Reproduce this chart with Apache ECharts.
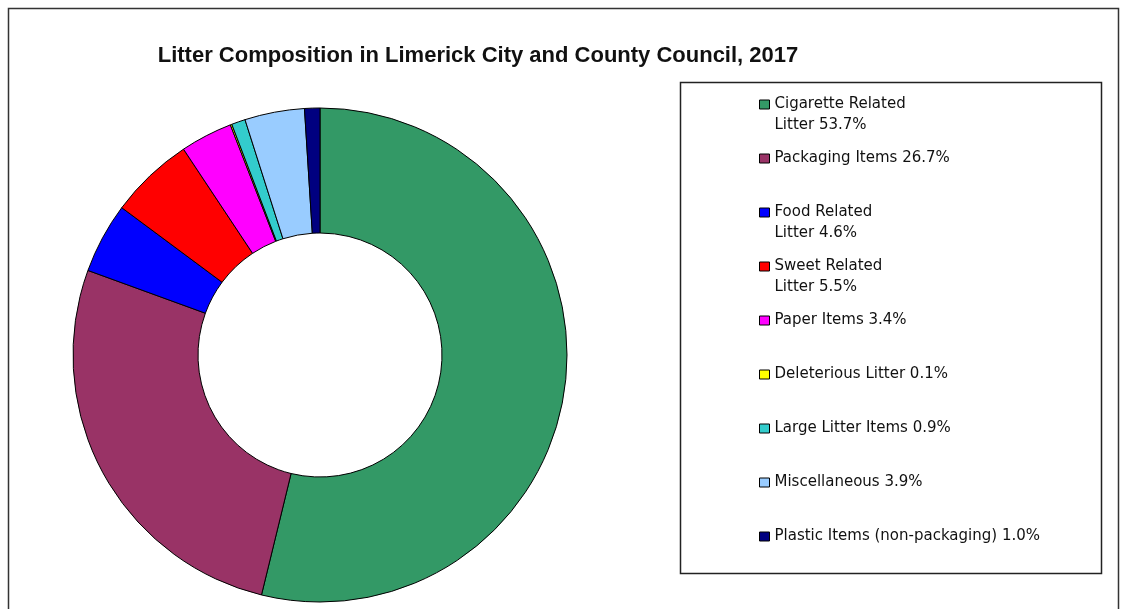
<!DOCTYPE html>
<html>
<head>
<meta charset="utf-8">
<script src="https://cdn.jsdelivr.net/npm/echarts@6/dist/echarts.min.js"></script>
<style>
  html, body { margin: 0; padding: 0; background: #fff; }
  #chart { width: 1127px; height: 609px; }
</style>
</head>
<body>
<div id="chart"></div>
<script>
// litter categories, clockwise from 12 o'clock
const categories = [
  "Cigarette Related Litter",
  "Packaging Items",
  "Food Related Litter",
  "Sweet Related Litter",
  "Paper Items",
  "Deleterious Litter",
  "Large Litter Items",
  "Miscellaneous",
  "Plastic Items (non-packaging)"
];
// legend text as printed (line breaks as in the picture)
const legendLabels = [
  "Cigarette Related\nLitter 53.7%",
  "Packaging Items 26.7%",
  "Food Related\nLitter 4.6%",
  "Sweet Related\nLitter 5.5%",
  "Paper Items 3.4%",
  "Deleterious Litter 0.1%",
  "Large Litter Items 0.9%",
  "Miscellaneous 3.9%",
  "Plastic Items (non-packaging) 1.0%"
];
const shares = [53.7, 26.7, 4.6, 5.5, 3.4, 0.1, 0.9, 3.9, 1.0];
const colors = ["#339966", "#993366", "#0000ff", "#ff0000", "#ff00ff", "#ffff00", "#33cccc", "#99ccff", "#000080"];

const chart = echarts.init(document.getElementById("chart"));

// legend icon is centred on the text block, so pad every label to three lines
// with the real first line in the middle
const labelFor = {};
categories.forEach((c, i) => {
  const t = legendLabels[i];
  labelFor[c] = t.indexOf("\n") >= 0 ? "\u00a0\n" + t : "\u00a0\n" + t + "\n\u00a0";
});

chart.setOption({
  animation: false,
  color: colors,
  title: {
    text: "Litter Composition in Limerick City and County Council, 2017",
    left: 473,
    textAlign: "center",
    top: 40,
    textStyle: {
      fontFamily: "Liberation Sans",
      fontWeight: "bold",
      fontSize: 22,
      color: "#111"
    }
  },
  graphic: [
    {
      type: "rect",
      shape: { x: 8.5, y: 8.5, width: 1110, height: 640 },
      style: { fill: "none", stroke: "#333", lineWidth: 1.5 },
      silent: true,
      z: -10
    },
    {
      type: "rect",
      shape: { x: 680.5, y: 82.5, width: 421, height: 491 },
      style: { fill: "#fff", stroke: "#222", lineWidth: 1.5 },
      silent: true,
      z: -5
    }
  ],
  legend: {
    orient: "vertical",
    left: 754,
    top: 68,
    itemWidth: 10,
    itemHeight: 9,
    itemGap: -9,
    icon: "rect",
    itemStyle: { borderColor: "#000", borderWidth: 1 },
    selectedMode: false,
    data: categories,
    formatter: (name) => labelFor[name],
    textStyle: {
      fontFamily: "DejaVu Sans",
      fontSize: 15,
      lineHeight: 21,
      color: "#111"
    }
  },
  series: [
    {
      type: "pie",
      center: [320, 355],
      radius: [122, 247],
      startAngle: 90,
      clockwise: true,
      label: { show: false },
      labelLine: { show: false },
      emphasis: { disabled: true },
      itemStyle: { borderColor: "#000", borderWidth: 1 },
      data: categories.map((c, i) => ({ name: c, value: shares[i] }))
    }
  ]
});
</script>
</body>
</html>
